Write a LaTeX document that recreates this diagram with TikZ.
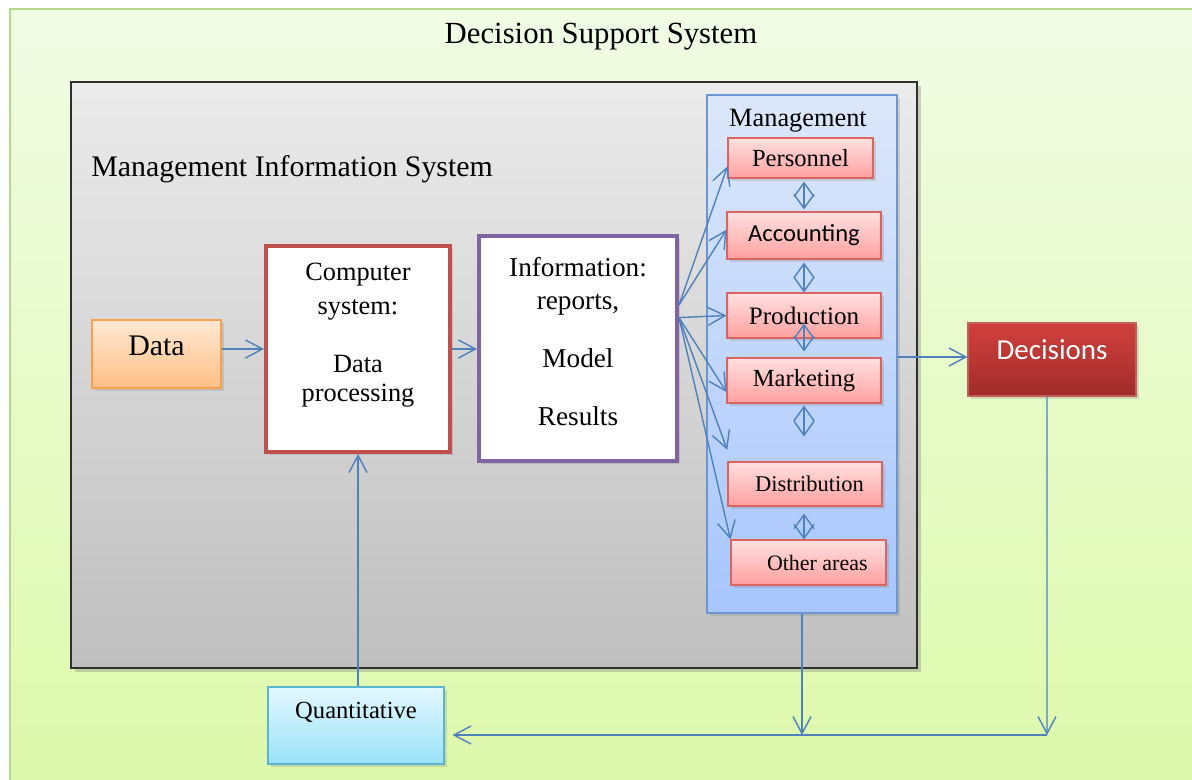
\documentclass[tikz,border=0pt]{standalone}
\usepackage{fontspec}
\setmainfont{Liberation Serif}
\newfontfamily\calibfont{Carlito}
\usetikzlibrary{arrows.meta,shadows,calc}

% one unit of the drawing grid
\newcommand\pxl{0.02cm}

\definecolor{dssTop}{HTML}{F1FCE5}
\definecolor{dssBot}{HTML}{DCF9A8}
\definecolor{dssLine}{HTML}{B4D88C}
\definecolor{misTop}{HTML}{EBEBEB}
\definecolor{misBot}{HTML}{BFBFBF}
\definecolor{misLine}{HTML}{2F2F2F}
\definecolor{panelTop}{HTML}{DCE7FA}
\definecolor{panelBot}{HTML}{A7C6FD}
\definecolor{panelLine}{HTML}{6C96CF}
\definecolor{redTop}{HTML}{FFE0E0}
\definecolor{redBot}{HTML}{FFA0A0}
\definecolor{redLine}{HTML}{DB6360}
\definecolor{decTop}{HTML}{D0403D}
\definecolor{decBot}{HTML}{A12C2B}
\definecolor{decLine}{HTML}{C25E5C}
\definecolor{quaTop}{HTML}{E3F8FF}
\definecolor{quaBot}{HTML}{9AE2FA}
\definecolor{quaLine}{HTML}{5DB4CF}
\definecolor{datTop}{HTML}{FFE9D4}
\definecolor{datBot}{HTML}{FFBF85}
\definecolor{datLine}{HTML}{F7A04F}
\definecolor{linkBlue}{HTML}{4F81BD}
\definecolor{compLine}{HTML}{C0504D}
\definecolor{infoLine}{HTML}{8064A2}

\tikzset{
  boxsize/.style 2 args={minimum width=#1*\pxl, minimum height=#2*\pxl},
  shade/.style={drop shadow={shadow xshift=1.5pt, shadow yshift=-1.5pt, opacity=0.25}},
  basebox/.style={rectangle, inner sep=0pt, line width=0.6pt},
  dssbox/.style={basebox, draw=dssLine, line width=1pt, top color=dssTop, bottom color=dssBot},
  misbox/.style={basebox, draw=misLine, line width=1pt, top color=misTop, bottom color=misBot,
    drop shadow={shadow xshift=2pt, shadow yshift=-2pt, opacity=0.35}},
  panelbox/.style={basebox, draw=panelLine, line width=0.8pt, top color=panelTop, bottom color=panelBot, shade},
  areabox/.style={basebox, draw=redLine, top color=redTop, bottom color=redBot, shade,
    font=\fontsize{14}{16}\selectfont},
  databox/.style={basebox, draw=datLine, top color=datTop, bottom color=datBot, shade,
    font=\fontsize{17}{20}\selectfont},
  procbox/.style={basebox, fill=white, line width=2.3pt, shade},
  decbox/.style={basebox, draw=decLine, top color=decTop, bottom color=decBot, shade,
    text=white, font=\calibfont\fontsize{16.5}{19}\selectfont},
  quabox/.style={basebox, draw=quaLine, top color=quaTop, bottom color=quaBot, shade,
    font=\fontsize{14}{16}\selectfont},
  bodytext/.style={inner sep=0pt, align=center, font=\fontsize{15}{19}\selectfont},
  heading/.style={inner sep=0pt, font=\fontsize{17.5}{20}\selectfont},
  link/.style={draw=linkBlue, line width=0.8pt, -{Straight Barb[length=0.34cm, width=0.36cm]}},
  twoway/.style={draw=linkBlue, line width=0.8pt,
    {Straight Barb[length=0.28cm, width=0.4cm]}-{Straight Barb[length=0.28cm, width=0.4cm]}},
}

\begin{document}
\begin{tikzpicture}[x=0.02cm, y=-0.02cm]
\useasboundingbox (0,0) rectangle (1192,779);
\clip (0,0) rectangle (1192,779);

% outer Decision Support System panel
\node[dssbox, boxsize={1220}{811}] (dss) at (620,414.5) {};
\node[heading] (dsstitle) at (601,37) {Decision Support System};

% Management Information System panel
\node[misbox, boxsize={846}{586}] (mis) at (494,375) {};
\node[heading, font=\fontsize{17}{20}\selectfont, anchor=west] (mistitle) at (91,169)
  {Management Information System};

% processing chain
\node[databox, boxsize={129}{68}, text depth=0.32cm] (data) at (156.5,354) {Data};
\node[procbox, draw=compLine, boxsize={184}{206}] (comp) at (358,349) {};
\node[bodytext, anchor=north] (comptext) at ([yshift=-0.38cm]comp.north)
  {Computer\\system:\\[14pt]Data\\[-2.5pt]processing};
\node[procbox, draw=infoLine, boxsize={198}{225}] (info) at (578,348.5) {};
\node[bodytext, font=\fontsize{15.5}{19}\selectfont, anchor=north] (infotext) at ([yshift=-0.46cm]info.north)
  {Information:\\reports,\\[14pt]Model\\[14pt]Results};

% management areas
\node[panelbox, boxsize={190}{518}] (mgmt) at (802,354) {};
\node[bodytext] (mgmttitle) at (798,121) {Management};
\node[areabox, boxsize={145}{40}] (personnel) at (800.5,158) {\raisebox{-2pt}{Personnel}};
\node[areabox, boxsize={154}{47}, font=\calibfont\fontsize{14}{16}\selectfont] (accounting) at (804,235.5) {Accounting};
\node[areabox, boxsize={154}{45}, font=\fontsize{14.3}{16}\selectfont] (production) at (804,315.5) {Production};
\node[areabox, boxsize={154}{45}] (marketing) at (804,380.5) {Marketing};
\node[areabox, boxsize={154}{44}, font=\fontsize{12.8}{15}\selectfont] (distribution) at (805,484) {\hspace{5pt}Distribution};
\node[areabox, boxsize={155}{45}, font=\fontsize{12.5}{15}\selectfont] (other) at (808.5,562.5) {\hspace{10pt}Other areas};

% outputs and feedback
\node[decbox, boxsize={168}{73}, text depth=0.38cm] (decisions) at (1052,359.5) {Decisions};
\node[quabox, boxsize={176}{77}, text depth=0.6cm] (quant) at (356,725.5) {Quantitative};

% main flow
\draw[link] (comp.west -| data.east) -- (comp.west);
\draw[link] (comp.east) -- (comp.east -| info.west);

% information fanned out to the areas
\coordinate (fanup) at ($(info.north east)!0.31!(info.south east)$);
\coordinate (fandown) at ($(info.north east)!0.365!(info.south east)$);
\coordinate (gapend) at ($(marketing.south west)!0.8!(distribution.north west)$);
\draw[link] (fanup) -- ($(personnel.south west)!0.3!(personnel.north west)$);
\draw[link] (fanup) -- ($(accounting.north west)!0.38!(accounting.south west)$);
\draw[link] (fandown) -- (production.west);
\draw[link] (fandown) -- ($(marketing.north west)!0.75!(marketing.south west)$);
\draw[link] (fandown) -- (gapend);
\draw[link] (fandown) -- (other.north west);

% exchanges between neighbouring areas
\draw[twoway] ([yshift=-0.06cm]personnel.south -| accounting.north) -- ([yshift=0.04cm]accounting.north);
\draw[twoway] ([yshift=-0.06cm]accounting.south) -- (production.north);
\draw[twoway] ([yshift=0.3cm]production.south) -- ([yshift=0.12cm]marketing.north);
\draw[twoway] ([yshift=-0.04cm]marketing.south) -- ([yshift=0.5cm]distribution.north -| marketing.south);
\draw[twoway] ([yshift=-0.14cm]distribution.south -| marketing.south) -- (other.north -| marketing.south);

% decisions and feedback loop
\coordinate (loopcorner) at (1047,735);
\draw[link] (mgmt.east |- 0,357) -- (decisions.west |- 0,357);
\draw[link] ([xshift=-0.1cm]decisions.south) -- (loopcorner);
\draw[link] (mgmt.south) -- (mgmt.south |- loopcorner);
\draw[link, shorten >=0.16cm] (loopcorner) -- (loopcorner -| quant.east);
\draw[link] (quant.north -| comp.south) -- (comp.south);
\end{tikzpicture}
\end{document}
